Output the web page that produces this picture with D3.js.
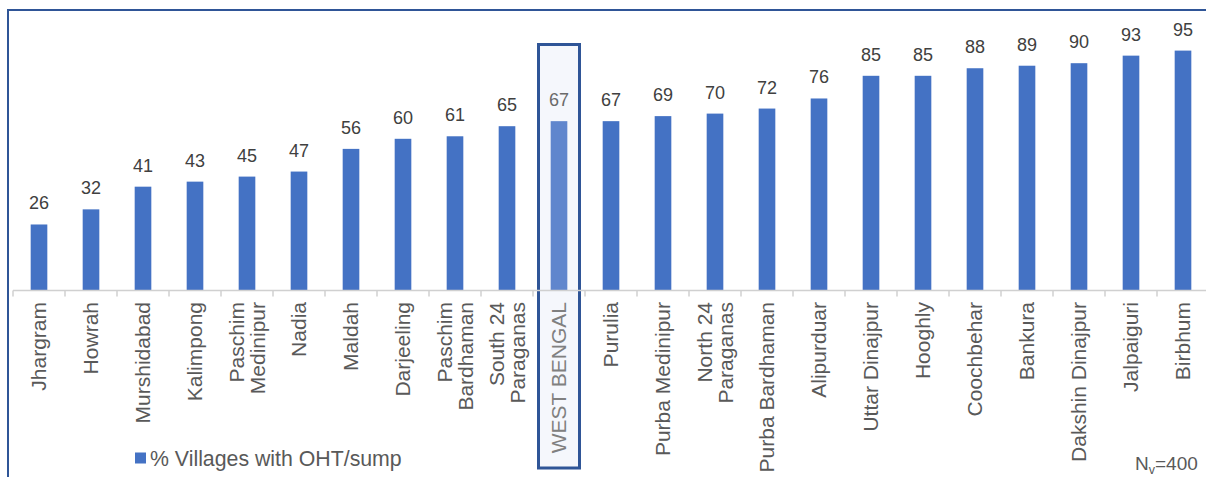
<!DOCTYPE html>
<html>
<head>
<meta charset="utf-8">
<script src="https://cdn.jsdelivr.net/npm/d3@7"></script>
<style>
  html, body { margin: 0; padding: 0; background: #ffffff; }
  svg { display: block; font-family: "Liberation Sans", Arial, sans-serif; }
</style>
</head>
<body>
<svg id="chart" width="1206" height="477"></svg>
<script>
// District names (multi-line labels split on "\n")
const districts = [
  "Jhargram", "Howrah", "Murshidabad", "Kalimpong", "Paschim\nMedinipur",
  "Nadia", "Maldah", "Darjeeling", "Paschim\nBardhaman", "South 24\nParaganas",
  "WEST BENGAL", "Purulia", "Purba Medinipur", "North 24\nParaganas", "Purba Bardhaman",
  "Alipurduar", "Uttar Dinajpur", "Hooghly", "Coochbehar", "Bankura",
  "Dakshin Dinajpur", "Jalpaiguri", "Birbhum"
];
// % villages with OHT/sump
const pctVillages = [26, 32, 41, 43, 45, 47, 56, 60, 61, 65, 67, 67, 69, 70, 72, 76, 85, 85, 88, 89, 90, 93, 95];
const stateName = "WEST BENGAL";
const legendLabel = "% Villages with OHT/sump";
const sampleSize = 400;

const svg = d3.select("#chart");
const baseY = 290.5;

const x = d3.scaleBand()
  .domain(districts)
  .range([13, 13 + 52 * districts.length])
  .paddingInner(0.68)
  .paddingOuter(0.34);

const y = d3.scaleLinear().domain([0, 100]).range([290, 38]);

const barColor = "#4472c4";
const stateColor = "#6086cd";

// outer frame (left and top edges)
svg.append("line").attr("x1", 8).attr("x2", 8).attr("y1", 10).attr("y2", 477)
  .attr("stroke", "#2f5597").attr("stroke-width", 2);
svg.append("line").attr("x1", 7).attr("x2", 1206).attr("y1", 10).attr("y2", 10)
  .attr("stroke", "#2f5597").attr("stroke-width", 2);

// highlight box around the state average
const step = x.step();
const stateCenter = x(stateName) + x.bandwidth() / 2;
svg.append("rect")
  .attr("x", stateCenter - 20.5).attr("y", 44.5)
  .attr("width", 41).attr("height", 423.5)
  .attr("fill", "#f5f7fc").attr("stroke", "#2f5597").attr("stroke-width", 3);

// bars
svg.append("g").selectAll("rect")
  .data(districts)
  .join("rect")
  .attr("x", d => x(d))
  .attr("width", x.bandwidth())
  .attr("y", (d, i) => y(pctVillages[i]))
  .attr("height", (d, i) => baseY - y(pctVillages[i]))
  .attr("fill", d => d === stateName ? stateColor : barColor);

// category axis
const axisG = svg.append("g").attr("transform", `translate(0,${baseY})`);
axisG.append("line")
  .attr("x1", x.range()[0]).attr("x2", x.range()[1])
  .attr("stroke", "#d0d0d0").attr("stroke-width", 1.5);
axisG.selectAll("line.tick")
  .data(d3.range(districts.length + 1))
  .join("line")
  .attr("class", "tick")
  .attr("x1", i => x.range()[0] + i * step)
  .attr("x2", i => x.range()[0] + i * step)
  .attr("y1", 0).attr("y2", 6)
  .attr("stroke", "#d0d0d0").attr("stroke-width", 1.5);

// value labels
svg.append("g").selectAll("text")
  .data(districts)
  .join("text")
  .attr("x", d => x(d) + x.bandwidth() / 2)
  .attr("y", (d, i) => y(pctVillages[i]) - 15)
  .attr("text-anchor", "middle")
  .attr("font-size", 18)
  .attr("fill", d => d === stateName ? "#6a6a6a" : "#404040")
  .text((d, i) => pctVillages[i]);

// rotated category labels
const lineGap = 21.5;
const labels = svg.append("g").selectAll("text")
  .data(districts)
  .join("text")
  .attr("transform", d => `translate(${x(d) + x.bandwidth() / 2},302) rotate(-90)`)
  .attr("text-anchor", "end")
  .attr("font-size", 21)
  .attr("fill", d => d === stateName ? "#808080" : "#595959");
labels.each(function(d) {
  const lines = d.split("\n");
  const n = lines.length;
  d3.select(this).selectAll("tspan")
    .data(lines)
    .join("tspan")
    .attr("x", 0)
    .attr("y", (l, j) => (j - (n - 1) / 2) * lineGap)
    .attr("dy", "0.35em")
    .text(l => l);
});

// legend
svg.append("rect").attr("x", 135).attr("y", 452.5).attr("width", 11).attr("height", 11)
  .attr("fill", barColor);
svg.append("text").attr("x", 150).attr("y", 466)
  .attr("font-size", 21.3).attr("fill", "#595959")
  .text(legendLabel);

// sample size note
const note = svg.append("text").attr("x", 1135).attr("y", 470)
  .attr("font-size", 19).attr("fill", "#595959");
note.append("tspan").text("N");
note.append("tspan").attr("font-size", 12.5).attr("dy", 4).text("v");
note.append("tspan").attr("dy", -4).text("=" + sampleSize);
</script>
</body>
</html>
